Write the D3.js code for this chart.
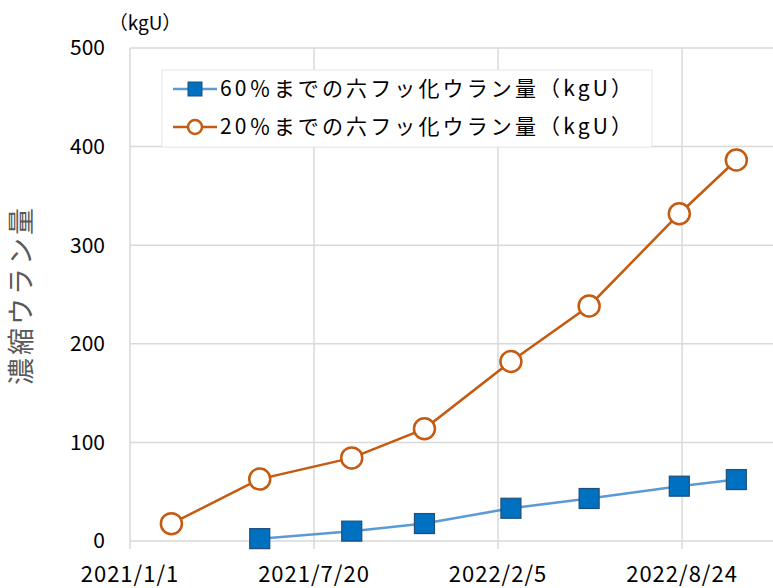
<!DOCTYPE html>
<html>
<head>
<meta charset="utf-8">
<script src="https://cdn.jsdelivr.net/npm/d3@7"></script>
<style>
  body { margin: 0; background: #fff; }
  svg { display: block; font-family: "Noto Sans CJK JP", "Noto Sans", sans-serif; }
</style>
</head>
<body>
<svg id="chart" width="773" height="588"></svg>
<script>
// data
const dates60 = ["2021-05-22", "2021-08-30", "2021-11-17", "2022-02-19", "2022-05-15", "2022-08-21", "2022-10-22"];
const values60 = [2.4, 10, 17.7, 33.2, 43.1, 55.6, 62.3];
const dates20 = ["2021-02-15", "2021-05-22", "2021-08-30", "2021-11-17", "2022-02-19", "2022-05-15", "2022-08-21", "2022-10-22"];
const values20 = [17.6, 62.8, 84.3, 113.8, 182.1, 238.4, 331.9, 386.4];
const xTickDates = ["2021-01-01", "2021-07-20", "2022-02-05", "2022-08-24"];
const xTickLabels = ["2021/1/1", "2021/7/20", "2022/2/5", "2022/8/24"];
const yTicks = [0, 100, 200, 300, 400, 500];
const seriesNames = ["60％までの六フッ化ウラン量（kgU）", "20％までの六フッ化ウラン量（kgU）"];

const parse = d3.utcParse("%Y-%m-%d");
const svg = d3.select("#chart");

const x = d3.scaleUtc()
  .domain([parse("2021-01-01"), parse("2023-03-13")])
  .range([130, 867]);
const y = d3.scaleLinear().domain([0, 500]).range([541, 48]);

const grid = "#d9d9d9";

// horizontal gridlines
svg.append("g").selectAll("line").data(yTicks).join("line")
  .attr("x1", 130).attr("x2", 773)
  .attr("y1", d => y(d)).attr("y2", d => y(d))
  .attr("stroke", grid).attr("stroke-width", 1.5);

// vertical gridlines + tick marks
svg.append("g").selectAll("line").data(xTickDates).join("line")
  .attr("x1", d => x(parse(d))).attr("x2", d => x(parse(d)))
  .attr("y1", 48).attr("y2", 549)
  .attr("stroke", grid).attr("stroke-width", 1.5);

// y labels
svg.append("g").selectAll("text").data(yTicks).join("text")
  .attr("x", 105).attr("y", d => y(d))
  .attr("dy", "0.35em")
  .attr("text-anchor", "end")
  .attr("font-size", 21)
  .attr("fill", "#000")
  .text(d => d);

// x labels
svg.append("g").selectAll("text").data(xTickDates).join("text")
  .attr("x", d => x(parse(d))).attr("y", 582)
  .attr("text-anchor", "middle")
  .attr("font-size", 22)
  .attr("letter-spacing", 1)
  .attr("fill", "#000")
  .text((d, i) => xTickLabels[i]);

// unit
svg.append("text").attr("x", 145).attr("y", 30)
  .attr("text-anchor", "middle").attr("font-size", 19).attr("fill", "#000")
  .text("（kgU）");

// y axis title
svg.append("text")
  .attr("transform", "translate(31,295) rotate(-90)")
  .attr("text-anchor", "middle")
  .attr("font-size", 27)
  .attr("letter-spacing", 3)
  .attr("fill", "#595959")
  .text("濃縮ウラン量");

const line = d3.line().x(d => x(d[0])).y(d => y(d[1]));
const pts60 = dates60.map((d, i) => [parse(d), values60[i]]);
const pts20 = dates20.map((d, i) => [parse(d), values20[i]]);

svg.append("path").attr("d", line(pts60))
  .attr("fill", "none").attr("stroke", "#5b9bd5").attr("stroke-width", 2.5);
svg.append("g").selectAll("rect").data(pts60).join("rect")
  .attr("x", d => x(d[0]) - 10).attr("y", d => y(d[1]) - 10)
  .attr("width", 20).attr("height", 20)
  .attr("fill", "#0070c0").attr("stroke", "#1f4e79").attr("stroke-width", 1.2);

svg.append("path").attr("d", line(pts20))
  .attr("fill", "none").attr("stroke", "#c55a11").attr("stroke-width", 2.5);
svg.append("g").selectAll("circle").data(pts20).join("circle")
  .attr("cx", d => x(d[0])).attr("cy", d => y(d[1])).attr("r", 10.5)
  .attr("fill", "#fff").attr("stroke", "#c55a11").attr("stroke-width", 2.5);

// legend
const lg = svg.append("g");
lg.append("rect").attr("x", 162).attr("y", 70).attr("width", 490).attr("height", 77)
  .attr("fill", "#fff").attr("stroke", "#e6e6e6").attr("stroke-width", 1);
const rows = [89, 127];
lg.append("line").attr("x1", 173).attr("x2", 217).attr("y1", rows[0]).attr("y2", rows[0])
  .attr("stroke", "#5b9bd5").attr("stroke-width", 2.5);
lg.append("rect").attr("x", 188).attr("y", rows[0] - 7).attr("width", 14).attr("height", 14)
  .attr("fill", "#0070c0").attr("stroke", "#1f4e79").attr("stroke-width", 1);
lg.append("line").attr("x1", 173).attr("x2", 217).attr("y1", rows[1]).attr("y2", rows[1])
  .attr("stroke", "#c55a11").attr("stroke-width", 2.5);
lg.append("circle").attr("cx", 195).attr("cy", rows[1]).attr("r", 7)
  .attr("fill", "#fff").attr("stroke", "#c55a11").attr("stroke-width", 2.5);
lg.selectAll("text.leg").data(seriesNames).join("text")
  .attr("class", "leg")
  .attr("x", 220).attr("y", (d, i) => rows[i])
  .attr("dy", "0.35em")
  .attr("font-size", 21)
  .attr("textLength", 412)
  .attr("lengthAdjust", "spacing")
  .attr("fill", "#000")
  .text(d => d);
</script>
</body>
</html>
